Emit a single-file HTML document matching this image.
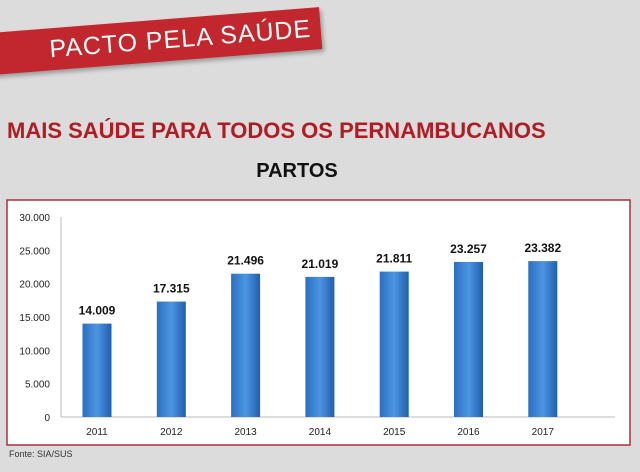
<!DOCTYPE html>
<html><head><meta charset="utf-8"><style>
body{margin:0;width:640px;height:472px;background:#dcdcdc;font-family:"Liberation Sans",sans-serif;position:relative;overflow:hidden}
.banner{position:absolute;left:-10px;top:33px;width:330px;height:42px;background:#c1272d;transform:rotate(-4.5deg);transform-origin:left top;box-shadow:2px 3px 4px rgba(0,0,0,.3)}
.banner span{position:absolute;left:58px;top:7px;color:#fff;font-size:25px;letter-spacing:1px;white-space:nowrap}
.t1{position:absolute;left:7px;top:118px;font-size:22px;font-weight:bold;color:#b01c22;white-space:nowrap}
.t2{position:absolute;left:0;width:594px;text-align:center;top:160px;font-size:20px;font-weight:bold;color:#111}
.fonte{position:absolute;left:9px;top:449px;font-size:9px;color:#333}
svg{position:absolute;left:0;top:0}
</style></head><body>
<div class="banner"><span>PACTO PELA SAÚDE</span></div>
<div class="t1">MAIS SAÚDE PARA TODOS OS PERNAMBUCANOS</div>
<div class="t2">PARTOS</div>
<svg width="640" height="472" id="chart">
<defs><linearGradient id="g" x1="0" x2="1"><stop offset="0" stop-color="#2a6fc0"/><stop offset=".5" stop-color="#4d95e2"/><stop offset="1" stop-color="#1f5fae"/></linearGradient></defs>
<rect x="7" y="200" width="623" height="245" fill="#fff" stroke="#a8323a" stroke-width="1.5"/>
<line x1="61" y1="217" x2="61" y2="417" stroke="#bbb"/>
<line x1="61" y1="417" x2="615" y2="417" stroke="#bbb"/>
</svg>
<div class="fonte">Fonte: SIA/SUS</div>
<script>
const categories=["2011","2012","2013","2014","2015","2016","2017"];
const values=[14009,17315,21496,21019,21811,23257,23382];
const valueLabels=["14.009","17.315","21.496","21.019","21.811","23.257","23.382"];
const yTicks=[0,5000,10000,15000,20000,25000,30000];
const yTickLabels=["0","5.000","10.000","15.000","20.000","25.000","30.000"];
const svg=document.getElementById('chart'),NS="http://www.w3.org/2000/svg";
const y=v=>417-v/30000*200, x=i=>97+i*74.3;
function mk(t,a,txt){const e=document.createElementNS(NS,t);for(const k in a)e.setAttribute(k,a[k]);if(txt!=null)e.textContent=txt;svg.appendChild(e);return e;}
yTicks.forEach((t,i)=>{const e=mk('text',{x:50,y:y(t)+4,'text-anchor':'end','font-size':10,fill:'#222'},yTickLabels[i]);

});
categories.forEach((c,i)=>{
const b=mk('rect',{x:x(i)-14.5,y:y(values[i]),width:29,height:417-y(values[i]),fill:'url(#g)'});


const v=mk('text',{x:x(i),y:y(values[i])-9,'text-anchor':'middle','font-size':12,'font-weight':'bold',fill:'#111'},valueLabels[i]);


const l=mk('text',{x:x(i),y:435,'text-anchor':'middle','font-size':10,fill:'#222'},c);


});
</script>
</body></html>
